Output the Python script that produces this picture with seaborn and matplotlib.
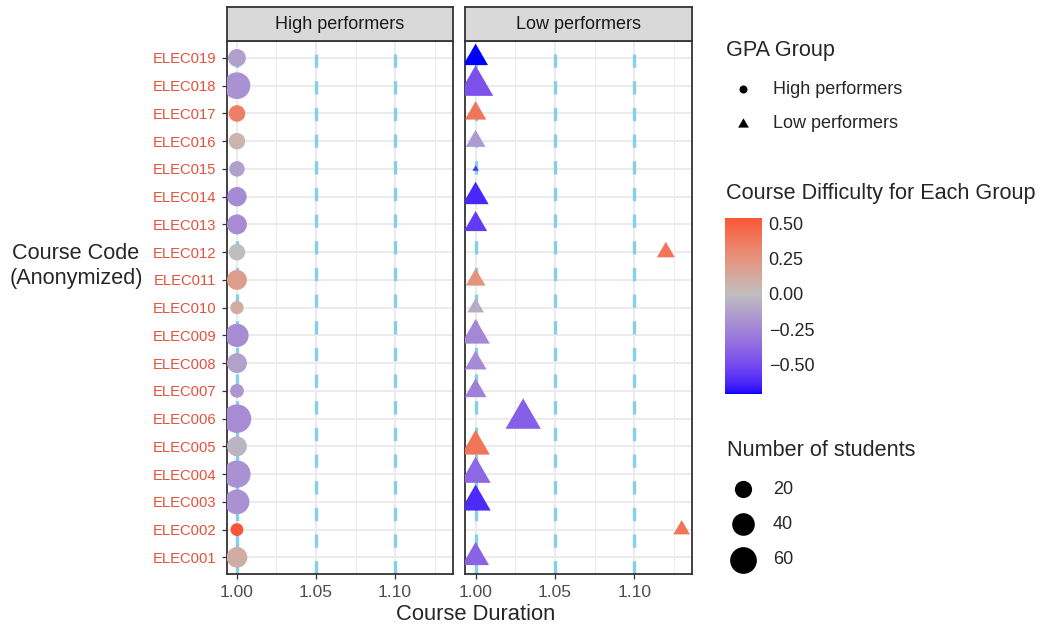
import numpy as np
import pandas as pd
import matplotlib
matplotlib.use("Agg")
import matplotlib.pyplot as plt
import seaborn as sns
from matplotlib.colors import ListedColormap, Normalize
from matplotlib.cm import ScalarMappable

# data
courses = ["ELEC001", "ELEC002", "ELEC003", "ELEC004", "ELEC005", "ELEC006", "ELEC007",
           "ELEC008", "ELEC009", "ELEC010", "ELEC011", "ELEC012", "ELEC013", "ELEC014",
           "ELEC015", "ELEC016", "ELEC017", "ELEC018", "ELEC019"]
groups = ["High performers", "Low performers"]

high_duration = [1.00, 1.00, 1.00, 1.00, 1.00, 1.00, 1.00, 1.00, 1.00, 1.00,
                 1.00, 1.00, 1.00, 1.00, 1.00, 1.00, 1.00, 1.00, 1.00]
low_duration = [1.00, 1.13, 1.00, 1.00, 1.00, 1.03, 1.00, 1.00, 1.00, 1.00,
                1.00, 1.12, 1.00, 1.00, 1.00, 1.00, 1.00, 1.00, 1.00]

high_difficulty = [0.10, 0.54, -0.20, -0.20, -0.04, -0.22, -0.17, -0.12, -0.22, 0.10,
                   0.20, 0.00, -0.22, -0.23, -0.13, 0.06, 0.35, -0.20, -0.13]
low_difficulty = [-0.40, 0.40, -0.62, -0.38, 0.40, -0.42, -0.27, -0.23, -0.24, -0.08,
                  0.25, 0.40, -0.56, -0.63, -0.60, -0.16, 0.40, -0.47, -0.71]

high_students = [32, 9, 50, 63, 29, 70, 11, 29, 43, 10, 29, 18, 29, 27, 15, 18, 18, 60, 22]
low_students = [29, 8, 39, 39, 34, 57, 17, 17, 34, 8, 13, 10, 20, 27, 1, 13, 16, 57, 24]

reference_durations = [1.00, 1.05, 1.10]
size_breaks = [20, 40, 60]
colorbar_ticks = [-0.50, -0.25, 0.00, 0.25, 0.50]

df = pd.concat([
    pd.DataFrame({"course": courses, "group": groups[0], "duration": high_duration,
                  "difficulty": high_difficulty, "students": high_students}),
    pd.DataFrame({"course": courses, "group": groups[1], "duration": low_duration,
                  "difficulty": low_difficulty, "students": low_students}),
])

sns.set_style("white")
plt.rcParams["font.family"] = ["Liberation Sans", "DejaVu Sans"]


# diverging colour scale (blue - grey - red) interpolated in CIELAB
def to_lab(rgb):
    rgb = np.asarray(rgb, float)
    lin = np.where(rgb <= 0.04045, rgb / 12.92, ((rgb + 0.055) / 1.055) ** 2.4)
    m = np.array([[0.4124, 0.3576, 0.1805], [0.2126, 0.7152, 0.0722], [0.0193, 0.1192, 0.9505]])
    xyz = m @ lin / np.array([0.95047, 1.0, 1.08883])
    f = np.where(xyz > 0.008856, np.cbrt(xyz), 7.787 * xyz + 16 / 116)
    return np.array([116 * f[1] - 16, 500 * (f[0] - f[1]), 200 * (f[1] - f[2])])


def from_lab(lab):
    fy = (lab[0] + 16) / 116
    fx = fy + lab[1] / 500
    fz = fy - lab[2] / 200
    f = np.array([fx, fy, fz])
    xyz = np.where(f ** 3 > 0.008856, f ** 3, (f - 16 / 116) / 7.787) * np.array([0.95047, 1.0, 1.08883])
    m = np.array([[3.2406, -1.5372, -0.4986], [-0.9689, 1.8758, 0.0415], [0.0557, -0.2040, 1.0570]])
    lin = np.clip(m @ xyz, 0, 1)
    rgb = np.where(lin <= 0.0031308, 12.92 * lin, 1.055 * lin ** (1 / 2.4) - 0.055)
    return np.clip(rgb, 0, 1)


low_col, mid_col, high_col = to_lab([0, 0, 1]), to_lab([0.745, 0.745, 0.745]), to_lab([1, 0, 0])
vmin, vmax = df["difficulty"].min(), df["difficulty"].max()
max_abs = max(abs(vmin), abs(vmax))
ramp = []
for v in np.linspace(vmin, vmax, 256):
    t = abs(v) / max_abs
    end = low_col if v < 0 else high_col
    ramp.append(from_lab(mid_col + (end - mid_col) * t))
cmap = ListedColormap(ramp)
norm = Normalize(vmin, vmax)

# size scale: diameter grows with sqrt of the count (like scale_size)
n_min, n_max = df["students"].min(), df["students"].max()


def diameter_px(n):
    return 4.75 * (1 + 5 * np.sqrt((n - n_min) / (n_max - n_min)))


tri = [(0, 1), (-np.sqrt(3) / 2, -0.5), (np.sqrt(3) / 2, -0.5)]
circle_sizes = {n: (0.72 * diameter_px(n)) ** 2 for n in df["students"].unique()}
tri_sizes = {n: (0.72 * 1.555 * diameter_px(n)) ** 2 for n in df["students"].unique()}

fig = plt.figure(figsize=(10.51, 6.28), dpi=100)
W, H = 1051, 628
top, bottom = 41.3, 574
panels = [(226.7, 452.7), (465.3, 692)]

axes = []
for i, (grp, (x0, x1)) in enumerate(zip(groups, panels)):
    ax = fig.add_axes([x0 / W, 1 - bottom / H, (x1 - x0) / W, (bottom - top) / H],
                      sharey=axes[0] if axes else None)
    sub = df[df["group"] == grp]
    for xv in reference_durations:
        ax.axvline(xv, color="#87CEEB", lw=2.4, ls=(0, (4, 4)), zorder=1.5)
    sns.scatterplot(data=sub, x="duration", y="course", hue="difficulty", size="students",
                    palette=cmap, hue_norm=norm,
                    sizes=circle_sizes if i == 0 else tri_sizes,
                    marker="o" if i == 0 else tri, linewidth=0, legend=False,
                    zorder=3, ax=ax)
    ax.set_xlim(0.9935, 1.1365)
    ax.set_ylim(-0.6, len(courses) - 0.4)
    ax.set_xticks(reference_durations)
    ax.set_xticklabels(["1.00", "1.05", "1.10"])
    ax.set_xticks([1.025, 1.075, 1.125], minor=True)
    ax.grid(True, which="major", color="#EBEBEB", lw=1.4)
    ax.grid(True, which="minor", axis="x", color="#EBEBEB", lw=0.7)
    ax.set_axisbelow(True)
    for s in ax.spines.values():
        s.set_color("#333333")
        s.set_linewidth(1.3)
    ax.set_xlabel("")
    ax.set_ylabel("")
    ax.tick_params(axis="x", which="major", length=3.6, width=0.9, color="#333333",
                   pad=4, labelsize=12.6, labelcolor="#4D4D4D", bottom=True)
    ax.tick_params(axis="x", which="minor", length=0)
    if i == 0:
        ax.tick_params(axis="y", length=3.6, width=0.9, color="#333333", pad=4,
                       labelsize=10.6, labelcolor="#E4503A", left=True)
    else:
        ax.tick_params(axis="y", left=False, labelleft=False)
    # facet strip
    sax = fig.add_axes([x0 / W, 1 - top / H, (x1 - x0) / W, 34 / H])
    sax.set_facecolor("#D9D9D9")
    sax.set_xticks([])
    sax.set_yticks([])
    for s in sax.spines.values():
        s.set_color("#333333")
        s.set_linewidth(1.3)
    sax.text(0.5, 0.5, grp, ha="center", va="center", fontsize=13, color="#1A1A1A",
             transform=sax.transAxes)
    axes.append(ax)

fig.text(476 / W, 1 - 615 / H, "Course Duration", ha="center", va="center", fontsize=15.8)
fig.text(76 / W, 1 - 266 / H, "Course Code\n(Anonymized)", ha="center", va="center",
         multialignment="center", fontsize=15.6, linespacing=1.3)

# legends drawn in pixel space
lax = fig.add_axes([0, 0, 1, 1])
lax.set_xlim(0, W)
lax.set_ylim(H, 0)
lax.axis("off")

lax.text(726, 50.7, "GPA Group", fontsize=15.6, va="center", ha="left")
lax.scatter([743.3], [89.3], s=(0.72 * 8) ** 2, marker="o", color="black", linewidth=0)
lax.scatter([743.3], [123.8], s=(0.72 * 1.555 * 8) ** 2, marker=tri, color="black", linewidth=0)
lax.text(772.7, 89.3, groups[0], fontsize=13, va="center", ha="left")
lax.text(772.7, 123.8, groups[1], fontsize=13, va="center", ha="left")

lax.text(726, 193.3, "Course Difficulty for Each Group", fontsize=15.6, va="center", ha="left")
cax = fig.add_axes([725 / W, 1 - 394.3 / H, 36.7 / W, 176.6 / H])
cb = fig.colorbar(ScalarMappable(norm=norm, cmap=cmap), cax=cax)
cb.outline.set_visible(False)
cb.set_ticks(colorbar_ticks)
cb.set_ticklabels([f"{t:.2f}".replace("-", "\u2212") for t in colorbar_ticks])
cax.tick_params(direction="in", length=5.3, width=0.9, color=(1, 1, 1, 0.8),
                left=True, right=True, labelsize=13, pad=5)

lax.text(726.7, 450.7, "Number of students", fontsize=15.6, va="center", ha="left")
for n, yk in zip(size_breaks, [489, 524.3, 560]):
    lax.scatter([743.3], [yk], s=(0.72 * diameter_px(n)) ** 2, marker="o", color="black", linewidth=0)
    lax.text(772.7, yk, str(n), fontsize=13, va="center", ha="left")

fig.savefig("out.png", dpi=100)
